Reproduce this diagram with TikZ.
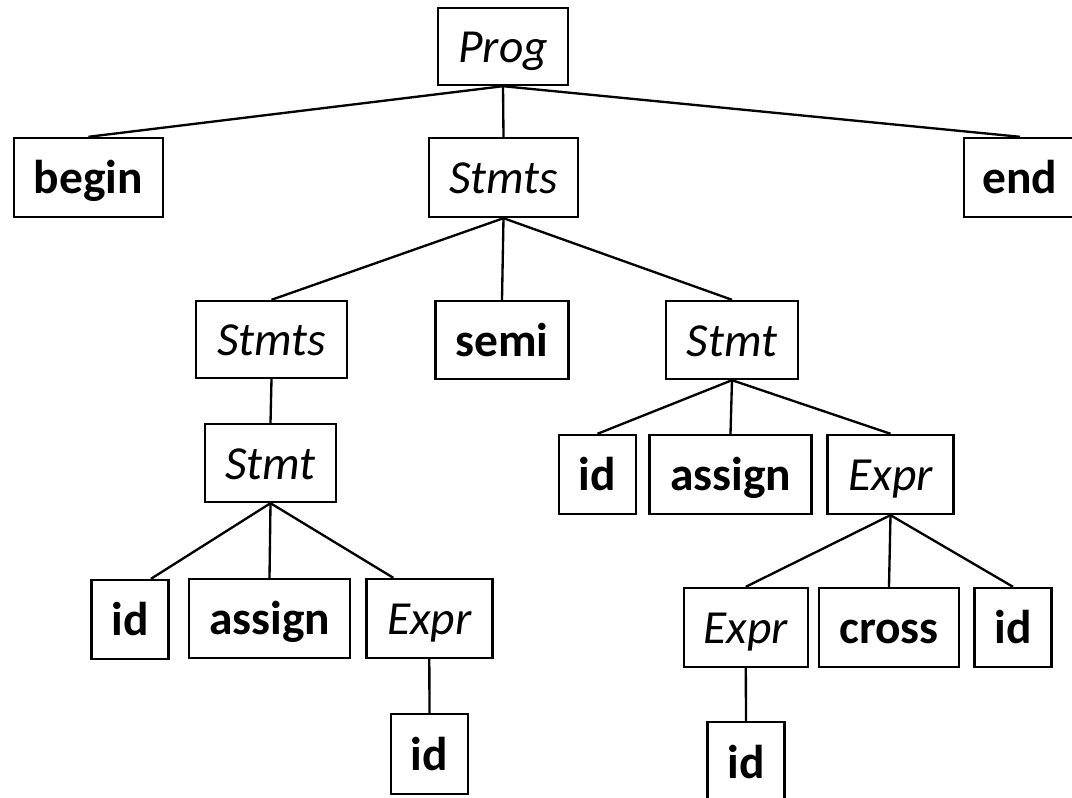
\documentclass[tikz,border=0pt]{standalone}
\usepackage{fontspec}
\setmainfont{Carlito}
\usetikzlibrary{calc}
\begin{document}
\begin{tikzpicture}[x=0.75pt,y=-0.75pt,
  box/.style={draw=black,line width=1.8pt,inner sep=0pt,anchor=center,
    text height=25.6pt,text depth=1.5pt},
  term/.style={box,font=\fontsize{35.6}{40}\selectfont\bfseries},
  nterm/.style={box,font=\fontsize{35.6}{40}\selectfont\itshape},
  edge/.style={draw=black,line width=1.75pt}]
\useasboundingbox (0,0) rectangle (1072,798);
% nodes
\node[nterm,minimum width=97.5pt,minimum height=57.75pt] (prog) at (503,46.5) {Prog};
\node[term,minimum width=111.75pt,minimum height=59.25pt] (begin) at (88.5,177.5) {begin};
\node[nterm,minimum width=111.75pt,minimum height=59.25pt] (stmts0) at (503.5,177.5) {Stmts};
\node[term,minimum width=84pt,minimum height=59.25pt] (end) at (1020,177.5) {end};
\node[nterm,minimum width=113.25pt,minimum height=57.75pt] (stmts1) at (271.5,339.5) {Stmts};
\node[term,minimum width=99.75pt,minimum height=58.5pt] (semi) at (502,340) {semi};
\node[nterm,minimum width=99pt,minimum height=58.5pt] (stmt0) at (732,340) {Stmt};
\node[nterm,minimum width=98.25pt,minimum height=58.5pt] (stmt1) at (270.5,463) {Stmt};
\node[term,minimum width=57.75pt,minimum height=59.25pt] (idA) at (597.5,474.5) {id};
\node[term,minimum width=121.5pt,minimum height=59.25pt] (assignA) at (730.5,474.5) {assign};
\node[nterm,minimum width=94.5pt,minimum height=59.25pt] (exprA) at (890.5,474.5) {Expr};
\node[term,minimum width=57.75pt,minimum height=59.25pt] (idB) at (130,619.5) {id};
\node[term,minimum width=120.75pt,minimum height=59.25pt] (assignB) at (269.5,618.5) {assign};
\node[nterm,minimum width=94.5pt,minimum height=59.25pt] (exprB) at (429.3,618.5) {Expr};
\node[term,minimum width=57.75pt,minimum height=60pt] (idC) at (429.5,754) {id};
\node[nterm,minimum width=93pt,minimum height=59.25pt] (exprC) at (745.8,627.5) {Expr};
\node[term,minimum width=105pt,minimum height=59.25pt] (cross) at (889,627.5) {cross};
\node[term,minimum width=57.75pt,minimum height=59.25pt] (idD) at (1013,627.5) {id};
\node[term,minimum width=57.75pt,minimum height=60pt] (idE) at (746,762) {id};
% edges
\draw[edge] (prog.south) -- (begin.north);
\draw[edge] (prog.south) -- (stmts0.north);
\draw[edge] (prog.south) -- (end.north);
\draw[edge] (stmts0.south) -- (stmts1.north);
\draw[edge] (stmts0.south) -- (semi.north);
\draw[edge] (stmts0.south) -- (stmt0.north);
\draw[edge] (stmts1.south) -- (stmt1.north);
\draw[edge] (stmt1.south) -- ($(idB.north)+(21,0)$);
\draw[edge] (stmt1.south) -- (assignB.north);
\draw[edge] (stmt1.south) -- ($(exprB.north)+(-36,0)$);
\draw[edge] (exprB.south) -- (idC.north);
\draw[edge] (stmt0.south) -- (idA.north);
\draw[edge] (stmt0.south) -- (assignA.north);
\draw[edge] (stmt0.south) -- (exprA.north);
\draw[edge] (exprA.south) -- (exprC.north);
\draw[edge] (exprA.south) -- (cross.north);
\draw[edge] (exprA.south) -- (idD.north);
\draw[edge] (exprC.south) -- (idE.north);
\end{tikzpicture}
\end{document}
